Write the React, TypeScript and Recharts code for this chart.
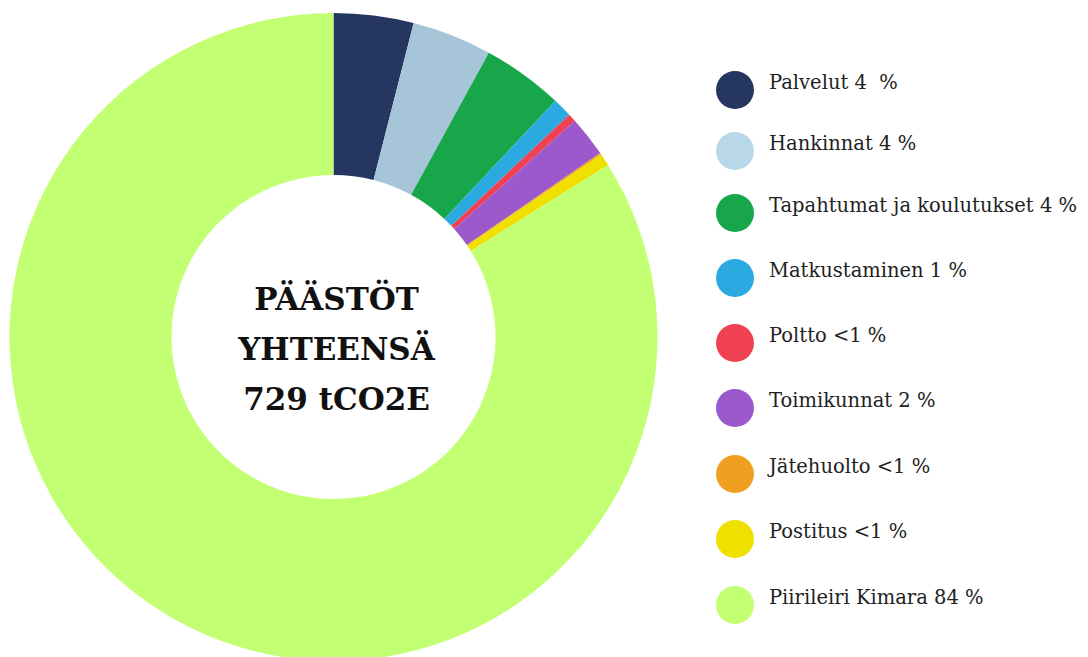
import React from "react";
import { PieChart, Pie, Cell, Legend, Label } from "recharts";

const categories = [
  "Palvelut",
  "Hankinnat",
  "Tapahtumat ja koulutukset",
  "Matkustaminen",
  "Poltto",
  "Toimikunnat",
  "Jätehuolto",
  "Postitus",
  "Piirileiri Kimara",
];
// tCO2e per category (total 729)
const emissions = [29, 29, 29.5, 7, 3, 14.7, 0.6, 4.5, 611.7];
const percentLabels = ["4  %", "4 %", "4 %", "1 %", "<1 %", "2 %", "<1 %", "<1 %", "84 %"];
const sliceColors = ["#253660", "#A6C5D8", "#17A64A", "#2BAAE2", "#F04153", "#9B59CB", "#F0A020", "#F0E000", "#C2FF73"];
const legendColors = ["#253660", "#B8D8EA", "#17A64A", "#2BAAE2", "#F04153", "#9B59CB", "#F0A020", "#F0E000", "#C2FF73"];
const centerLines = ["PÄÄSTÖT", "YHTEENSÄ", "729 tCO2E"];

const data = categories.map((name, i) => ({ name, value: emissions[i] }));

const LEGEND_Y = [89.5, 150.5, 212.5, 277.5, 342.5, 407.5, 473.5, 538.5, 605];

const LegendContent = () => (
  <div style={{ position: "absolute", left: 0, top: 0, width: 1088, height: 657, pointerEvents: "none" }}>
    {categories.map((c, i) => (
      <div key={c}>
        <div
          style={{
            position: "absolute",
            left: 735 - 19,
            top: LEGEND_Y[i] - 19,
            width: 38,
            height: 38,
            borderRadius: "50%",
            background: legendColors[i],
          }}
        />
        <div
          style={{
            position: "absolute",
            left: 769,
            top: LEGEND_Y[i] - 22,
            fontFamily: "'DejaVu Serif', serif",
            fontSize: 19.5,
            lineHeight: "30px",
            color: "#222",
            whiteSpace: "pre",
          }}
        >
          {`${c} ${percentLabels[i]}`}
        </div>
      </div>
    ))}
  </div>
);

const CenterLabel = (props: any) => {
  const vb = props.viewBox || {};
  const cx = vb.cx ?? 333.5;
  const cy = vb.cy ?? 337;
  return (
    <text
      x={cx}
      y={cy}
      textAnchor="middle"
      fontFamily="'DejaVu Serif', serif"
      fontWeight="bold"
      fontSize={31}
      fill="#111"
    >
      {centerLines.map((l, i) => (
        <tspan key={l} x={cx + 3} y={cy - 27 + i * 50}>
          {l}
        </tspan>
      ))}
    </text>
  );
};

export default function App() {
  return (
    <div style={{ position: "fixed", left: 0, top: 0, width: 1088, height: 657, background: "#fff" }}>
      <PieChart width={1088} height={657} margin={{ top: 0, right: 0, bottom: 0, left: 0 }}>
        <Pie
          data={data}
          dataKey="value"
          nameKey="name"
          cx={333.5}
          cy={337}
          outerRadius={324}
          innerRadius={162}
          startAngle={90}
          endAngle={-270}
          stroke="none"
          isAnimationActive={false}
        >
          {data.map((d, i) => (
            <Cell key={d.name} fill={sliceColors[i]} />
          ))}
          <Label position="center" content={<CenterLabel />} />
        </Pie>
        <Legend
          content={<LegendContent />}
          wrapperStyle={{ position: "absolute", left: 0, top: 0, width: 1088, height: 657 }}
        />
      </PieChart>
    </div>
  );
}
